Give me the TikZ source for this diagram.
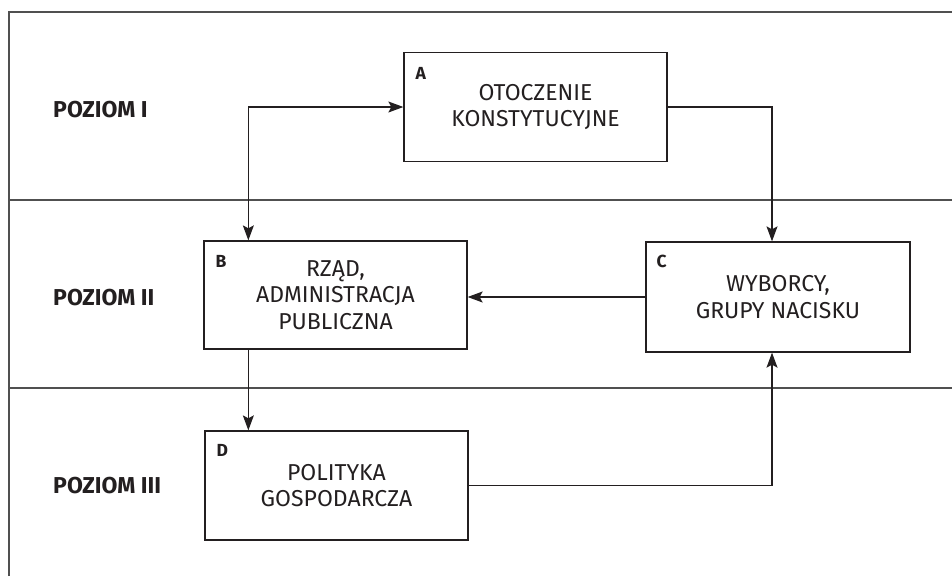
\documentclass[tikz,border=0pt]{standalone}
\usepackage{fontspec}
\setmainfont{Fira Sans}[UprightFont={Fira Sans Regular}, BoldFont={Fira Sans Bold}]
\usetikzlibrary{arrows.meta,calc}
\definecolor{ink}{RGB}{35,31,32}
\definecolor{rule}{RGB}{80,80,80}
\begin{document}
\begin{tikzpicture}[x=1pt,y=-1pt,
  every node/.style={text=ink},
  stage/.style={draw=ink, line width=1.3pt, rectangle, inner sep=0pt,
    minimum width=263pt, minimum height=109pt, align=center,
    font=\fontsize{23}{26.7}\selectfont},
  letter/.style={anchor=base west, inner sep=0pt, font=\fontsize{17.5}{20}\selectfont\bfseries},
  level/.style={anchor=base west, inner sep=0pt, font=\fontsize{23}{26}\selectfont\bfseries},
  link/.style={draw=ink, line width=1.2pt, -{Stealth[length=15pt,width=11pt,inset=3pt]}},
  divider/.style={draw=rule, line width=1.5pt}]
  \useasboundingbox (0,0) rectangle (952,576);

  % frame and level dividers
  \draw[divider] (9,576) -- (9,12) -- (952,12);
  \draw[divider] (9,200) -- (952,200);
  \draw[divider] (9,388) -- (952,388);

  % level captions
  \node[level] (l1) at (53,117) {POZIOM I};
  \node[level] (l2) at (53,305) {POZIOM II};
  \node[level] (l3) at (53,493) {POZIOM III};

  % stage boxes
  \node[stage] (A) at (535.5,107) {OTOCZENIE\\KONSTYTUCYJNE};
  \node[stage, minimum height=108pt] (B) at (335.5,295) {RZĄD,\\ADMINISTRACJA\\PUBLICZNA};
  \node[stage, minimum width=264pt, minimum height=110pt] (C) at (778,297) {WYBORCY,\\GRUPY NACISKU};
  \node[stage] (D) at (336.5,485.5) {POLITYKA\\GOSPODARCZA};

  % box letters
  \node[letter] (la) at ([shift={(12,28)}]A.north west) {A};
  \node[letter] (lb) at ([shift={(12,27)}]B.north west) {B};
  \node[letter] (lc) at ([shift={(11,26)}]C.north west) {C};
  \node[letter] (ld) at ([shift={(12,26)}]D.north west) {D};

  % connectors
  \draw[link, {Stealth[length=15pt,width=11pt,inset=3pt]}-{Stealth[length=15pt,width=11pt,inset=3pt]}]
    ([xshift=45pt]B.north west) |- (A.west);
  \draw[link] (A.east) -| ([xshift=-6pt]C.north);
  \draw[link] (C.west) -- (C.west -| B.east);
  \draw[link] ([xshift=45pt]B.south west) -- ([xshift=45pt]B.south west |- D.north);
  \draw[link] (D.east) -| ([xshift=-6pt]C.south);
\end{tikzpicture}
\end{document}
